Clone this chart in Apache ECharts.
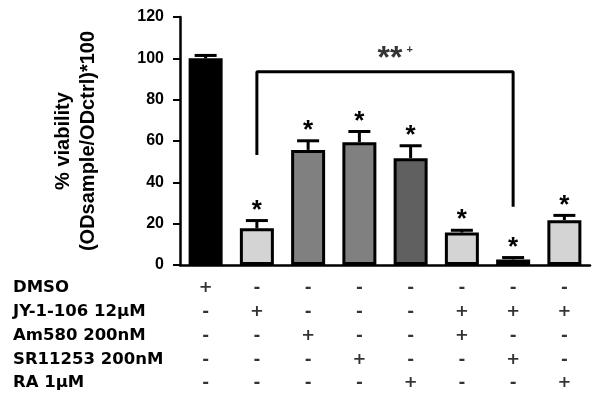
<!DOCTYPE html>
<html>
<head>
<meta charset="utf-8">
<script src="https://cdn.jsdelivr.net/npm/echarts@6/dist/echarts.min.js"></script>
<style>
  html, body { margin: 0; padding: 0; background: #fff; }
  #chart { width: 605px; height: 405px; }
</style>
</head>
<body>
<div id="chart"></div>
<script>
// mean viability (% of control) and error per group
const viability = [100, 17.8, 55.7, 59.4, 51.7, 15.7, 2.7, 21.7];
const sem = [1.4, 3.7, 4.4, 5.2, 6.0, 1.1, 0.9, 2.3];
const stars = ['', '*', '*', '*', '*', '*', '*', '*'];

// treatment table under the chart
const rowNames = ['DMSO', 'JY-1-106 12μM', 'Am580 200nM', 'SR11253 200nM', 'RA 1μM'];
const treatments = [
  ['+', '-', '-', '-', '-', '-', '-', '-'],
  ['-', '+', '-', '-', '-', '+', '+', '+'],
  ['-', '-', '+', '-', '-', '+', '-', '-'],
  ['-', '-', '-', '+', '-', '-', '+', '-'],
  ['-', '-', '-', '-', '+', '-', '-', '+']
];

// comparison bracket between group 2 and group 7
const bracket = [[1, 53.2], [1, 93.5], [6, 93.5], [6, 28.2]];
const bracketMark = [3.7, 102.6];

const yMax = 120;
const yStep = 20;

const barColors = ['#000000', '#d4d4d4', '#808080', '#808080', '#606060', '#d4d4d4', '#d4d4d4', '#d4d4d4'];
const FONT = 'Liberation Sans';
const TABLE_FONT = 'DejaVu Sans';

const chart = echarts.init(document.getElementById('chart'));

const barData = viability.map((v, i) => ({
  value: [i, v],
  itemStyle: { color: barColors[i] }
}));

const errData = viability.map((v, i) => [i, v, sem[i]]);

const tableData = [];
treatments.forEach((row, r) => {
  row.forEach((s, c) => tableData.push({ value: [c, r], label: { formatter: s } }));
});

chart.setOption({
  animation: false,
  grid: [
    { left: 180, right: 15, top: 17, height: 248 },
    { left: 180, right: 15, top: 276, height: 119 }
  ],
  xAxis: [
    {
      type: 'value', gridIndex: 0, min: -0.5, max: 7.5,
      axisLine: { show: true, onZero: false, lineStyle: { color: '#000', width: 2.5 } },
      axisTick: { show: false }, axisLabel: { show: false }, splitLine: { show: false }
    },
    {
      type: 'value', gridIndex: 1, min: -0.5, max: 7.5, show: false
    }
  ],
  yAxis: [
    {
      type: 'value', gridIndex: 0, min: 0, max: yMax, interval: yStep,
      name: '% viability\n(ODsample/ODctrl)*100',
      nameLocation: 'middle', nameRotate: 90, nameGap: 79,
      nameTextStyle: { fontFamily: FONT, fontWeight: 'bold', fontSize: 20, lineHeight: 25, color: '#000' },
      axisLine: { show: true, onZero: false, lineStyle: { color: '#000', width: 2.5 } },
      axisTick: { show: true, length: 7, lineStyle: { color: '#000', width: 2 } },
      axisLabel: { fontFamily: FONT, fontWeight: 'bold', fontSize: 16, color: '#000', margin: 16 },
      splitLine: { show: false }
    },
    {
      type: 'category', gridIndex: 1, data: rowNames, inverse: true,
      axisLine: { show: false }, axisTick: { show: false }, splitLine: { show: false },
      axisLabel: {
        fontFamily: TABLE_FONT, fontWeight: 'bold', fontSize: 16.5, color: '#000',
        align: 'left', margin: 167
      }
    }
  ],
  series: [
    {
      type: 'bar', xAxisIndex: 0, yAxisIndex: 0,
      barWidth: 34,
      data: barData,
      itemStyle: { borderColor: '#000', borderWidth: 3 },
      z: 2
    },
    {
      type: 'custom', xAxisIndex: 0, yAxisIndex: 0,
      data: errData,
      z: 3,
      renderItem: function (params, api) {
        const x = api.value(0);
        const v = api.value(1);
        const e = api.value(2);
        const p0 = api.coord([x, v]);
        const p1 = api.coord([x, v + e]);
        const children = [
          { type: 'line', shape: { x1: p0[0], y1: p0[1], x2: p1[0], y2: p1[1] }, style: { stroke: '#000', lineWidth: 3 } },
          { type: 'line', shape: { x1: p1[0] - 11, y1: p1[1], x2: p1[0] + 11, y2: p1[1] }, style: { stroke: '#000', lineWidth: 3 } }
        ];
        const s = stars[params.dataIndex];
        if (s) {
          children.push({
            type: 'text', x: p1[0], y: p1[1] - 10,
            style: { text: s, fontFamily: FONT, fontWeight: 'bold', fontSize: 26, fill: '#000', align: 'center', verticalAlign: 'middle' }
          });
        }
        return { type: 'group', children: children };
      }
    },
    {
      type: 'line', xAxisIndex: 0, yAxisIndex: 0,
      data: bracket,
      symbol: 'none',
      lineStyle: { color: '#000', width: 3 },
      z: 4
    },
    {
      type: 'scatter', xAxisIndex: 0, yAxisIndex: 0,
      data: [bracketMark],
      symbolSize: 0,
      label: {
        show: true, position: 'inside',
        formatter: '{s|**}{p|+}',
        rich: {
          s: { fontFamily: FONT, fontWeight: 'bold', fontSize: 32, color: '#000', padding: [12, 4, 0, 0] },
          p: { fontFamily: FONT, fontWeight: 'bold', fontSize: 11, color: '#000', padding: [0, 0, 6, 0] }
        }
      },
      z: 5
    },
    {
      type: 'scatter', xAxisIndex: 1, yAxisIndex: 1,
      data: tableData,
      symbolSize: 0,
      label: {
        show: true, position: 'inside',
        fontFamily: TABLE_FONT, fontWeight: 'bold', fontSize: 16.5, color: '#000'
      }
    }
  ]
});
</script>
</body>
</html>
